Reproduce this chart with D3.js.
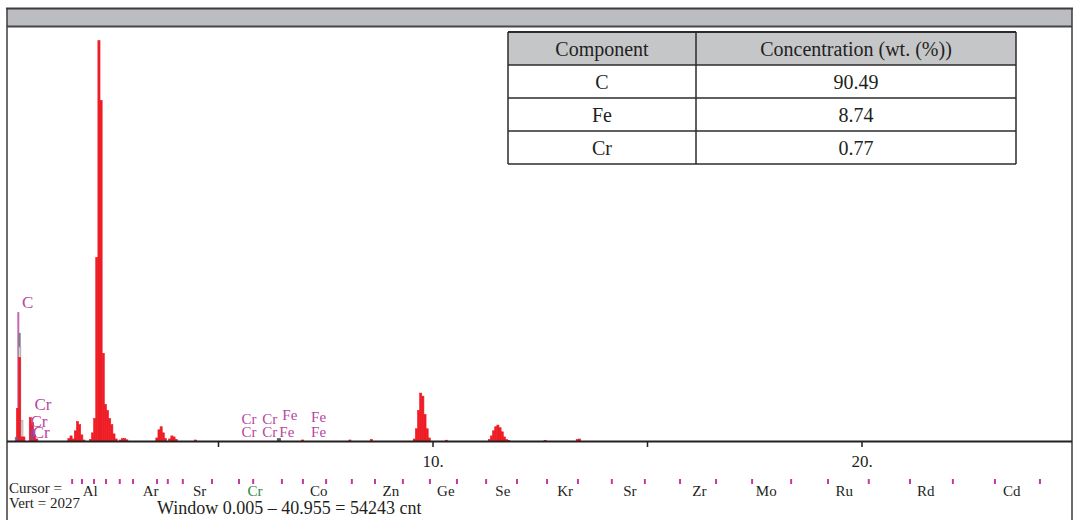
<!DOCTYPE html>
<html>
<head>
<meta charset="utf-8">
<script src="https://cdn.jsdelivr.net/npm/d3@7"></script>
<style>
  html, body { margin: 0; padding: 0; background: #fff; }
  svg { display: block; }
  text { font-family: "Liberation Serif", "Times New Roman", serif; fill: #231f20; }
</style>
</head>
<body>
<svg id="chart" width="1074" height="520"></svg>
<script>
// ---- EDS spectrum data (keV bin start, counts; bin width 0.05 keV) ----
const binWidth = 0.05;
const spectrumEnergy = [
  0.30, 0.35, 0.40, 0.45, 0.60, 0.65, 0.70, 0.75,
  1.50, 1.55, 1.60, 1.65, 1.70, 1.75, 1.80, 1.85,
  2.00, 2.05, 2.10, 2.15, 2.20, 2.25, 2.30, 2.35, 2.40, 2.45, 2.50, 2.55, 2.60,
  2.70, 2.75, 2.80, 2.85,
  3.55, 3.60, 3.65, 3.70, 3.75, 3.85, 3.90, 3.95, 4.00, 4.45,
  6.95, 8.05, 8.55,
  9.55, 9.60, 9.65, 9.70, 9.75, 9.80, 9.85, 9.90,
  10.30,
  11.30, 11.35, 11.40, 11.45, 11.50, 11.55, 11.60, 11.65, 11.70, 11.75,
  12.60, 13.35, 13.40
];
const spectrumCounts = [
  160, 410, 20, 20, 115, 90, 30, 10,
  12, 25, 10, 50, 95, 80, 30, 5,
  8, 40, 110, 900, 1963, 1670, 430, 180, 150, 110, 80, 35, 10,
  5, 12, 12, 6,
  15, 55, 70, 40, 12, 10, 25, 20, 8, 5,
  5, 5, 8,
  10, 60, 150, 235, 220, 130, 60, 15,
  4,
  8, 25, 50, 70, 78, 65, 45, 20, 8, 3,
  3, 8, 10
];

// Fitted carbon line (grey) drawn beneath the measured spectrum
const fitEnergy = [0.35];
const fitCounts = [530];
const fitOutlineEnergy = [0.35, 0.40];
const fitOutlineCounts = [460, 100];

// Element line markers in the plot
const markerElements = ["C", "Cr", "Cr"];
const markerEnergy = [0.345, 0.30, 0.67];
const markerCounts = [632, 20, 60];
const markerColors = ["#c466b6", "#8d4a9c", "#8d4a9c"];
const greenMarkerEnergy = [6.42];
const greenMarkerCounts = [14];

// Peak identification labels: text, energy anchor, counts anchor, font size
const peakLabels = ["C", "Cr", "Cr", "Cr", "Cr", "Cr", "Cr", "Cr", "Fe", "Fe", "Fe", "Fe"];
const peakLabelEnergy = [0.43, 0.72, 0.63, 0.68, 5.55, 5.55, 6.03, 6.03, 6.50, 6.43, 7.17, 7.17];
const peakLabelCounts = [650, 150, 68, 14, 85, 18, 85, 18, 105, 18, 92, 18];
const peakLabelSize = [17, 17, 17, 17, 15, 15, 15, 15, 15, 15, 15, 15];

// Energy axis
const xTicks = [5, 10, 15, 20];

// Periodic-table navigation row under the axis
const navElements = ["Al", "Ar", "Sr", "Cr", "Co", "Zn", "Ge", "Se", "Kr", "Sr", "Zr", "Mo", "Ru", "Rd", "Cd"];
const navEnergy = [2.02, 3.43, 4.57, 5.86, 7.35, 9.03, 10.31, 11.64, 13.09, 14.60, 16.22, 17.78, 19.60, 21.50, 23.50];
const navTickEnergy = [
  1.60, 1.83, 2.11, 2.39, 2.71, 3.02, 3.58, 3.83, 4.18, 4.86, 5.49, 5.82, 6.49, 6.98, 7.52, 8.12,
  8.66, 9.31, 9.94, 10.57, 11.25, 11.97, 12.67, 13.39, 14.18, 14.95, 15.77, 16.61, 17.45, 18.36,
  19.22, 20.17, 21.13, 22.13, 23.11, 24.16
];
const highlightedNav = "Cr";

// Composition table
const tableHeader = ["Component", "Concentration (wt. (%))"];
const components = ["C", "Fe", "Cr"];
const concentrations = ["90.49", "8.74", "0.77"];

// Status text
const cursorText = "Cursor =";
const vertText = "Vert = 2027";
const windowText = "Window 0.005 \u2013 40.955 = 54243 cnt";

// ---- layout ----
const W = 1074, H = 520;
const frame = { left: 7, right: 1072, top: 8, barBottom: 27 };
const baseline = 441;

const svg = d3.select("#chart");

const x = d3.scaleLinear().domain([0, 25]).range([3.5, 1076]);
const y = d3.scaleLinear().domain([0, 2030]).range([baseline, 27]);

const RED = "#ee1d25";
const PINK = "#b8459e";

// plot clip
svg.append("clipPath").attr("id", "plotClip")
  .append("rect")
  .attr("x", frame.left + 1).attr("y", frame.barBottom)
  .attr("width", frame.right - frame.left - 2).attr("height", baseline - frame.barBottom);

const plot = svg.append("g").attr("clip-path", "url(#plotClip)");

// carbon marker line (under bars)
plot.selectAll("line.marker")
  .data(d3.range(markerEnergy.length).filter(i => markerElements[i] === "C"))
  .join("line")
  .attr("class", "marker")
  .attr("x1", i => x(markerEnergy[i])).attr("x2", i => x(markerEnergy[i]))
  .attr("y1", y(0)).attr("y2", i => y(markerCounts[i]))
  .attr("stroke", i => markerColors[i]).attr("stroke-width", 2);

// fitted carbon line: solid grey, then outlined box
plot.selectAll("rect.fit")
  .data(fitEnergy.map((e, i) => ({ e, c: fitCounts[i] })))
  .join("rect")
  .attr("class", "fit")
  .attr("x", d => x(d.e)).attr("width", d => x(d.e + binWidth) - x(d.e))
  .attr("y", d => y(d.c)).attr("height", d => y(0) - y(d.c))
  .attr("fill", "#7d7d7d");

plot.selectAll("rect.fitOutline")
  .data(fitOutlineEnergy.map((e, i) => ({ e, c: fitOutlineCounts[i] })))
  .join("rect")
  .attr("class", "fitOutline")
  .attr("x", d => x(d.e) + 0.5).attr("width", d => x(d.e + binWidth) - x(d.e) - 0.5)
  .attr("y", d => y(d.c)).attr("height", d => y(0) - y(d.c))
  .attr("fill", "#ffffff").attr("stroke", "#a9aaac").attr("stroke-width", 1);

// measured spectrum (thin same-colour stroke closes seams between bins)
plot.selectAll("rect.bin")
  .data(spectrumEnergy.map((e, i) => ({ e, c: spectrumCounts[i] })))
  .join("rect")
  .attr("class", "bin")
  .attr("x", d => x(d.e)).attr("width", d => x(d.e + binWidth) - x(d.e))
  .attr("y", d => y(d.c)).attr("height", d => y(0) - y(d.c))
  .attr("fill", RED).attr("stroke", RED).attr("stroke-width", 0.6);

// small Cr markers over the spectrum
plot.selectAll("line.crmark")
  .data(d3.range(markerEnergy.length).filter(i => markerElements[i] === "Cr"))
  .join("line")
  .attr("class", "crmark")
  .attr("x1", i => x(markerEnergy[i])).attr("x2", i => x(markerEnergy[i]))
  .attr("y1", y(0)).attr("y2", i => y(markerCounts[i]))
  .attr("stroke", i => markerColors[i]).attr("stroke-width", 3).attr("opacity", 0.85);

plot.selectAll("rect.green")
  .data(greenMarkerEnergy.map((e, i) => ({ e, c: greenMarkerCounts[i] })))
  .join("rect")
  .attr("class", "green")
  .attr("x", d => x(d.e) - 2).attr("width", 4)
  .attr("y", d => y(d.c)).attr("height", d => y(0) - y(d.c))
  .attr("fill", "#4a6a4a");

// peak labels
svg.selectAll("text.peak")
  .data(peakLabels.map((t, i) => ({ t, e: peakLabelEnergy[i], c: peakLabelCounts[i], s: peakLabelSize[i] })))
  .join("text")
  .attr("class", "peak")
  .attr("x", d => x(d.e)).attr("y", d => y(d.c))
  .attr("font-size", d => d.s)
  .style("fill", PINK)
  .text(d => d.t);

// frame: title bar and side rules
svg.append("rect")
  .attr("x", frame.left).attr("y", frame.top)
  .attr("width", frame.right - frame.left).attr("height", frame.barBottom - frame.top)
  .attr("fill", "#bcbdc0");
svg.append("line")
  .attr("x1", frame.left - 1).attr("x2", frame.right + 1)
  .attr("y1", frame.top + 0.5).attr("y2", frame.top + 0.5)
  .attr("stroke", "#3c3c3e").attr("stroke-width", 2);
svg.append("line")
  .attr("x1", frame.left).attr("x2", frame.right)
  .attr("y1", frame.barBottom - 0.5).attr("y2", frame.barBottom - 0.5)
  .attr("stroke", "#47474a").attr("stroke-width", 2);
[frame.left, frame.right].forEach(px => {
  svg.append("line")
    .attr("x1", px).attr("x2", px)
    .attr("y1", frame.top).attr("y2", H)
    .attr("stroke", "#3c3c3e").attr("stroke-width", 1.5);
});

// energy axis
const axis = d3.axisBottom(x)
  .tickValues(xTicks)
  .tickSize(6)
  .tickPadding(8)
  .tickFormat(d => d % 10 === 0 ? d + "." : "");
const gAxis = svg.append("g").attr("transform", `translate(0,${baseline})`).call(axis);
gAxis.select(".domain").remove();
gAxis.selectAll(".tick line").attr("stroke", "#231f20").attr("stroke-width", 1.5);
gAxis.selectAll(".tick text")
  .attr("font-family", "Liberation Serif, Times New Roman, serif")
  .attr("font-size", 17)
  .style("fill", "#231f20");
svg.append("line")
  .attr("x1", frame.left).attr("x2", frame.right)
  .attr("y1", baseline + 0.5).attr("y2", baseline + 0.5)
  .attr("stroke", "#231f20").attr("stroke-width", 2);

// navigation ticks and element names
svg.selectAll("rect.navtick")
  .data(navTickEnergy)
  .join("rect")
  .attr("class", "navtick")
  .attr("x", d => x(d) - 1).attr("width", 2)
  .attr("y", 479).attr("height", 5)
  .attr("fill", "#c4399e");

svg.selectAll("text.nav")
  .data(navElements.map((t, i) => ({ t, e: navEnergy[i] })))
  .join("text")
  .attr("class", "nav")
  .attr("x", d => x(d.e)).attr("y", 496)
  .attr("text-anchor", "middle")
  .attr("font-size", 15)
  .style("fill", d => d.t === highlightedNav && d.e > 5 && d.e < 7 ? "#1f8a3c" : "#231f20")
  .text(d => d.t);

// status lines
svg.append("text").attr("x", 9).attr("y", 493).attr("font-size", 15).text(cursorText);
svg.append("text").attr("x", 9).attr("y", 508).attr("font-size", 15).text(vertText);
svg.append("text").attr("x", 157).attr("y", 514).attr("font-size", 18).text(windowText);

// composition table
const table = { x0: 508, x1: 1016, xDiv: 696, y0: 32, rowH: 33 };
const rows = [tableHeader].concat(components.map((c, i) => [c, concentrations[i]]));
const gT = svg.append("g");
gT.append("rect")
  .attr("x", table.x0).attr("y", table.y0)
  .attr("width", table.x1 - table.x0).attr("height", table.rowH)
  .attr("fill", "#c5c6c8");
rows.forEach((r, i) => {
  const cy = table.y0 + table.rowH * (i + 0.5);
  gT.append("text")
    .attr("x", (table.x0 + table.xDiv) / 2).attr("y", cy + 7)
    .attr("text-anchor", "middle").attr("font-size", 20).text(r[0]);
  gT.append("text")
    .attr("x", (table.xDiv + table.x1) / 2).attr("y", cy + 7)
    .attr("text-anchor", "middle").attr("font-size", 20).text(r[1]);
});
d3.range(rows.length + 1).forEach(i => {
  const yy = table.y0 + table.rowH * i;
  gT.append("line")
    .attr("x1", table.x0).attr("x2", table.x1)
    .attr("y1", yy).attr("y2", yy)
    .attr("stroke", "#2b2b2d").attr("stroke-width", i === 0 ? 2 : 1.5);
});
[table.x0, table.xDiv, table.x1].forEach(px => {
  gT.append("line")
    .attr("x1", px).attr("x2", px)
    .attr("y1", table.y0).attr("y2", table.y0 + table.rowH * rows.length)
    .attr("stroke", "#2b2b2d").attr("stroke-width", 1.5);
});
</script>
</body>
</html>
